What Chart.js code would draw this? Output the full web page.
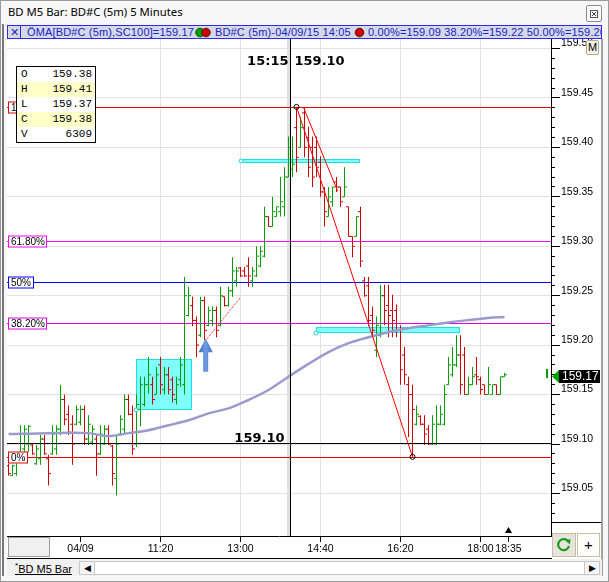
<!DOCTYPE html>
<html><head><meta charset="utf-8">
<script src="https://cdn.jsdelivr.net/npm/chart.js@4"></script>
<style>
body{margin:0;width:609px;height:582px;overflow:hidden;background:#f0f0f0;position:relative;font-family:"Liberation Sans",Arial,sans-serif}
.a{position:absolute;box-sizing:border-box}
#ohlc div{height:15px;line-height:15px;padding:0 3px 0 4px;display:flex;justify-content:space-between}
</style></head><body>
<div class="a" style="left:0;top:0;width:609px;height:582px;border:1px solid #9a9a9a;background:#f7f7f7"></div>
<div class="a" style="left:2px;top:24px;width:2px;height:552px;background:#777"></div>
<div class="a" style="left:8px;top:4px;font:11.3px 'Noto Sans',sans-serif;color:#000;white-space:nowrap">BD M5 Bar: BD#C (5m) 5 Minutes</div>
<div class="a" style="left:586px;top:5px;width:16px;height:17px;border:1px solid #8c8c8c;border-radius:2px;background:#fafafa">
<svg width="14" height="15" style="position:absolute;left:0;top:0"><rect x="3.5" y="4.5" width="7" height="7" fill="none" stroke="#555"/><path d="M5 6 L9 10 M9 6 L5 10" stroke="#444"/></svg></div>
<div class="a" id="leg" style="left:7px;top:25px;width:595px;height:14px;border:1px solid #2a2aff;background:#d5d9e6;overflow:hidden;white-space:nowrap;font:11px 'Liberation Sans',sans-serif;color:#1c1cc8;line-height:12px;letter-spacing:0.15px">
<span class="a" style="left:1px;top:0;width:12px;height:12px;border-right:1px solid #2a2aff;text-align:center">✕</span>
<span class="a" style="left:19px;top:0">ÖMA[BD#C (5m),SC100]=159.17</span>
<svg class="a" style="left:187px;top:1px" width="18" height="11"><circle cx="5" cy="5.5" r="4.3" fill="#00a000" stroke="#003300" stroke-width="0.8"/><circle cx="11" cy="5.5" r="4.3" fill="#d00000" stroke="#400000" stroke-width="0.8"/></svg>
<span class="a" style="left:207px;top:0">BD#C (5m)-04/09/15 14:05</span>
<svg class="a" style="left:346px;top:1px" width="11" height="11"><circle cx="5.5" cy="5.5" r="4.3" fill="#d00000" stroke="#400000" stroke-width="0.8"/></svg>
<span class="a" style="left:360px;top:0">0.00%=159.09 38.20%=159.22 50.00%=159.26 61.80%=159.31</span>
</div>
<div class="a" style="left:7px;top:39px;width:595px;height:520px;background:#fff"></div>
<div class="a" style="left:601px;top:39px;width:2px;height:537px;background:#a0a0a0"></div>
<canvas id="c" class="a" width="594" height="519" style="left:7px;top:39px"></canvas>
<div class="a" style="left:552px;top:522px;width:49px;height:14px;background:#fff;border-top:1px solid #000"></div>
<div class="a" style="left:586px;top:40px;width:13px;height:15px;border:1px solid #b8a888;border-radius:2px;background:#f6f3ea;font:11px 'Liberation Sans',sans-serif;text-align:center;line-height:13px">M</div>
<div class="a" style="left:552px;top:536px;width:49px;height:22px;background:#fff"></div>
<div class="a" style="left:552px;top:533px;width:24px;height:24px;border:1px solid #c8bea0;background:#e6e4dc">
<svg width="22" height="22" style="position:absolute;left:0;top:0"><path d="M15.5 8 A5.5 5.5 0 1 0 16 12" fill="none" stroke="#1f9a1f" stroke-width="2.2"/><path d="M12.5 6.5 L17.5 5 L17 10.5 Z" fill="#1f9a1f"/></svg></div>
<div class="a" style="left:577px;top:533px;width:23px;height:24px;border:1px solid #c8bea0;background:#fff;font:15px 'Liberation Sans',sans-serif;text-align:center;line-height:22px">+</div>
<div class="a" style="left:8px;top:537px;width:42px;height:20px;border:1px solid #9c9c9c;background:#f0f0f0"></div>
<div class="a" style="left:7px;top:558px;width:545px;height:1px;background:#000"></div>
<div class="a" style="left:7px;top:559px;width:595px;height:17px;background:#f0f0f0"></div>
<div class="a" style="left:15px;top:561px;font:11px 'Liberation Sans',sans-serif;text-decoration:underline;color:#000;white-space:nowrap"><sup style="font-size:8px">*</sup>BD M5 Bar</div>
<div class="a" style="left:79px;top:561px;width:521px;height:14px;border:1px solid #c8c8c8;background:#fff"></div>
<div class="a" style="left:79px;top:561px;width:16px;height:14px;border:1px solid #c8c8c8;background:#f4f4f4;font:9px sans-serif;text-align:center;line-height:12px">◀</div>
<div class="a" style="left:584px;top:561px;width:16px;height:14px;border:1px solid #c8c8c8;background:#f4f4f4;font:9px sans-serif;text-align:center;line-height:12px">▶</div>
<div class="a" id="ohlc" style="left:16px;top:66px;width:80px;height:77px;border:1px solid #000;background:#fff;font:11px 'Liberation Mono',monospace;color:#000"></div>
<div class="a" style="left:546px;top:369px;width:2px;height:9px;background:#00a000"></div>
<svg class="a" style="left:552px;top:370px" width="7" height="13"><path d="M0 6.5 L7 0 L7 13 Z" fill="#00a000"/></svg>
<div class="a" id="pm" style="left:559px;top:370px;width:41px;height:13px;background:#000;color:#fff;font:12px 'Liberation Sans',sans-serif;line-height:13px;padding-left:3px">159.17</div>
<script>
// ---- data ----
const opens = [159.078,159.068,159.070,159.090,159.095,159.100,159.099,159.080,159.085,159.105,
159.085,159.090,159.095,159.115,159.145,159.130,159.120,159.120,159.122,159.135,
159.105,159.102,159.105,159.090,159.100,159.115,159.098,159.065,159.110,159.115,
159.145,159.130,159.100,159.135,159.140,159.160,159.160,159.150,159.180,159.155,
159.170,159.165,159.145,159.165,159.160,159.230,159.240,159.225,159.210,159.245,
159.220,159.225,159.235,159.220,159.249,159.240,159.255,159.265,159.278,159.275,
159.280,159.265,159.270,159.280,159.290,159.330,159.320,159.330,159.335,159.340,
159.370,159.378,159.420,159.400,159.435,159.410,159.400,159.400,159.385,159.355,
159.330,159.345,159.365,159.360,159.350,159.340,159.310,159.310,159.335,159.265,
159.260,159.230,159.195,159.210,159.250,159.240,159.235,159.235,159.215,159.190,
159.160,159.150,159.120,159.128,159.120,159.115,159.100,159.100,159.120,159.120,
159.160,159.170,159.180,159.190,159.190,159.150,159.160,159.170,159.165,159.160,
159.150,159.150,159.160,159.150,159.168];
const highs = [159.080,159.079,159.089,159.119,159.119,159.119,159.100,159.099,159.109,159.109,
159.089,159.119,159.119,159.160,159.150,159.139,159.129,159.139,159.139,159.139,
159.129,159.119,159.109,159.119,159.119,159.119,159.099,159.109,159.129,159.150,
159.150,159.139,159.150,159.168,159.168,159.188,159.168,159.178,159.188,159.178,
159.178,159.168,159.168,159.188,159.269,159.259,159.249,159.229,159.249,159.249,
159.239,159.239,159.239,159.259,159.249,159.259,159.289,159.279,159.279,159.279,
159.289,159.279,159.300,159.300,159.340,159.330,159.350,159.340,159.370,159.380,
159.411,159.411,159.441,159.431,159.441,159.421,159.411,159.411,159.391,159.360,
159.360,159.360,159.370,159.360,159.380,159.340,159.310,159.330,159.340,159.269,
159.269,159.239,159.229,159.261,159.261,159.261,159.251,159.241,159.220,159.198,
159.168,159.160,159.139,159.129,159.129,159.119,159.129,159.139,159.139,159.160,
159.188,159.198,159.210,159.210,159.198,159.168,159.178,159.188,159.168,159.160,
159.178,159.160,159.160,159.168,159.172];
const lows = [159.068,159.068,159.068,159.089,159.089,159.092,159.089,159.079,159.079,159.089,
159.058,159.089,159.089,159.109,159.119,159.109,159.079,159.119,159.119,159.099,
159.099,159.099,159.068,159.089,159.099,159.099,159.058,159.048,159.109,159.109,
159.129,159.089,159.097,159.118,159.138,159.151,159.140,159.150,159.150,159.150,
159.150,159.142,159.140,159.158,159.150,159.229,159.219,159.188,159.208,159.205,
159.219,159.219,159.208,159.219,159.239,159.239,159.249,159.259,159.269,159.269,
159.259,159.259,159.269,159.279,159.289,159.320,159.320,159.330,159.330,159.330,
159.370,159.370,159.375,159.400,159.390,159.370,159.360,159.370,159.350,159.320,
159.330,159.340,159.355,159.340,159.350,159.310,159.289,159.310,159.279,159.249,
159.219,159.209,159.188,159.208,159.220,159.208,159.208,159.208,159.160,159.160,
159.107,159.087,159.119,159.119,159.099,159.099,159.099,159.099,159.119,159.119,
159.160,159.168,159.178,159.150,159.150,159.150,159.160,159.160,159.150,159.150,
159.150,159.150,159.150,159.150,159.168];
const closes = [159.070,159.078,159.088,159.110,159.115,159.118,159.090,159.095,159.105,159.090,
159.070,159.110,159.115,159.145,159.125,159.112,159.100,159.135,159.135,159.105,
159.120,159.115,159.090,159.110,159.115,159.100,159.070,159.100,159.125,159.145,
159.130,159.095,159.140,159.160,159.160,159.170,159.145,159.170,159.160,159.170,
159.155,159.150,159.160,159.180,159.250,159.250,159.225,159.200,159.245,159.215,
159.235,159.235,159.215,159.250,159.240,159.255,159.275,159.275,159.270,159.270,
159.270,159.275,159.290,159.295,159.330,159.320,159.335,159.340,159.345,159.370,
159.400,159.383,159.390,159.420,159.400,159.380,159.370,159.380,159.355,159.335,
159.350,159.360,159.360,159.345,159.360,159.310,159.300,159.330,159.285,159.250,
159.225,159.215,159.220,159.250,159.235,159.230,159.225,159.215,159.175,159.170,
159.150,159.135,159.130,159.120,159.110,159.100,159.120,159.120,159.130,159.150,
159.180,159.180,159.190,159.160,159.150,159.160,159.168,159.168,159.155,159.150,
159.160,159.160,159.150,159.168,159.170];
const crossVolume = 6309;
// 100-bar moving average, sampled along the chart
const maIdx = [0,10,20,25,30,35,40,45,50,55,60,65,70,75,80,85,90,95,100,105,110,115,120,124];
const maVal = [159.110,159.111,159.111,159.108,159.111,159.114,159.119,159.124,159.131,159.136,159.1445,159.1546,
159.168,159.181,159.193,159.202,159.208,159.213,159.217,159.220,159.223,159.2254,159.2275,159.2285];
// time axis labels (bar index -> label)
const xTickIdx = [18,38,58,78,98,118,125];
const xTickLabels = ['04/09','11:20','13:00','14:40','16:20','18:00','18:35'];
const xGrid = [false,true,true,true,true,true,false];
const priceTicks = [159.05,159.10,159.15,159.20,159.25,159.30,159.35,159.40,159.45,159.50];
// fibonacci retracement
const fibLow = 159.087, fibHigh = 159.441;
const fibPct = [0,38.2,50,61.8,100];
const fibLabels = ['0%','38.20%','50%','61.80%','100%'];
const fibColors = ['#e00000','#e000e0','#0000ff','#ff00ff','#e00000'];
// drawings
const rectX0 = [31.9,58.1,76.9], rectX1 = [45.8,87.8,112.9];
const rectLo = [159.1344,159.3842,159.2118], rectHi = [159.186,159.3883,159.218];
const trendA = [[72,159.441],[101,159.087]];
const trendB = [[73.7,159.441],[82.25,159.356]];
const trendC = [[49.55,159.206],[58.05,159.2485]];
const crossIdx = 70.5, crossPrice = 159.10, crossBar = 71;
const arrowIdx = 49.3, arrowTip = 159.207, arrowBase = 159.173;

// ---- chart ----
const GREEN='#00a000', RED='#d00000', GRID='#e2e2e2';
const AXF='"Liberation Sans",Arial,sans-serif';
const idx = opens.map((_,i)=>i);
const col = idx.map(i => closes[i] >= opens[i] ? GREEN : RED);
const minorTicks=[]; for(let k=1;k<=50;k++) minorTicks.push(+(159+k*0.01).toFixed(2));
const YMAX = 159.10 + 405/988.6, YMIN = 159.10 - 92/988.6;

// OHLC box
const ob = document.getElementById('ohlc');
[['O',opens[crossBar].toFixed(2),'#fff'],['H',highs[crossBar].toFixed(2),'#ffffc8'],['L',lows[crossBar].toFixed(2),'#fff'],
 ['C',closes[crossBar].toFixed(2),'#ffffc8'],['V',String(crossVolume),'#fff']].forEach(r=>{
  const d=document.createElement('div'); d.style.background=r[2];
  d.innerHTML='<span>'+r[0]+'</span><span>'+r[1]+'</span>'; ob.appendChild(d);
});

const P=(s,v)=>s.getPixelForValue(v);
const deco = {
  id:'deco',
  beforeDatasetsDraw(chart){
    const {ctx, chartArea:a, scales:{x,y}} = chart;
    ctx.save(); ctx.beginPath(); ctx.rect(a.left,a.top,a.right-a.left,a.bottom-a.top); ctx.clip();
    const b0=Math.round(P(x,crossIdx-1)), b1=Math.round(P(x,crossIdx));
    ctx.fillStyle='#e0e0e0'; ctx.fillRect(b0,a.top,b1-b0,a.bottom-a.top);
    fibPct.forEach((p,k)=>{
      const py=Math.round(P(y,fibLow+(fibHigh-fibLow)*p/100))+0.5;
      ctx.strokeStyle=fibColors[k]; ctx.lineWidth=1;
      ctx.beginPath(); ctx.moveTo(a.left,py); ctx.lineTo(a.right,py); ctx.stroke();
    });
    rectX0.forEach((_,k)=>{
      const x0=Math.round(P(x,rectX0[k])), x1=Math.round(P(x,rectX1[k]));
      const y0=Math.round(P(y,rectHi[k])), y1=Math.round(P(y,rectLo[k]));
      ctx.fillStyle='#80ffff'; ctx.fillRect(x0,y0,x1-x0,y1-y0);
      ctx.strokeStyle='#20e0e0'; ctx.strokeRect(x0+0.5,y0+0.5,x1-x0-1,y1-y0-1);
    });
    ctx.restore();
  },
  afterDatasetsDraw(chart){
    const {ctx, chartArea:a, scales:{x,y}} = chart;
    ctx.save(); ctx.beginPath(); ctx.rect(a.left,a.top,a.right-a.left,a.bottom-a.top); ctx.clip();
    rectX0.forEach((_,k)=>{
      const x0=Math.round(P(x,rectX0[k]));
      const yy = k===1 ? (P(y,rectHi[k])+P(y,rectLo[k]))/2 : Math.round(P(y,rectLo[k]));
      ctx.beginPath(); ctx.arc(x0,yy,2,0,Math.PI*2); ctx.fillStyle='#fff'; ctx.fill();
      ctx.strokeStyle='#20d8d8'; ctx.lineWidth=1; ctx.stroke();
    });
    const cx=Math.round(P(x,crossIdx))+0.5-1, cy=Math.round(P(y,crossPrice))-0.5;
    ctx.strokeStyle='#000'; ctx.lineWidth=1;
    ctx.beginPath(); ctx.moveTo(cx,a.top); ctx.lineTo(cx,a.bottom); ctx.moveTo(a.left,cy); ctx.lineTo(a.right,cy); ctx.stroke();
    ctx.font='bold 13px "DejaVu Sans",sans-serif'; ctx.fillStyle='#000'; ctx.textBaseline='alphabetic';
    ctx.textAlign='right'; ctx.fillText('15:15',cx-2,a.top+26);
    ctx.textAlign='left'; ctx.fillText(crossPrice.toFixed(2),cx+4,a.top+26);
    ctx.textAlign='right'; ctx.fillText(crossPrice.toFixed(2),cx-6,cy-1.5);
    const ax=P(x,arrowIdx), t=P(y,arrowTip), b=P(y,arrowBase);
    const g=ctx.createLinearGradient(ax-7,0,ax+7,0); g.addColorStop(0,'#3a68bb'); g.addColorStop(0.5,'#6f9be0'); g.addColorStop(1,'#3f6fc4');
    ctx.fillStyle=g; ctx.beginPath();
    ctx.moveTo(ax,t); ctx.lineTo(ax+7,t+14); ctx.lineTo(ax+2.5,t+14); ctx.lineTo(ax+2.5,b); ctx.lineTo(ax-2.5,b);
    ctx.lineTo(ax-2.5,t+14); ctx.lineTo(ax-7,t+14); ctx.closePath(); ctx.fill();
    ctx.font='10px '+AXF; ctx.textBaseline='middle'; ctx.textAlign='left';
    fibPct.forEach((p,k)=>{
      const py=Math.round(P(y,fibLow+(fibHigh-fibLow)*p/100))+0.5;
      const w=Math.ceil(ctx.measureText(fibLabels[k]).width)+5;
      ctx.fillStyle='#fff'; ctx.fillRect(a.left+1,py-6,w,12);
      ctx.strokeStyle=fibColors[k]; ctx.strokeRect(a.left+1.5,py-5.5,w-1,11);
      ctx.fillStyle='#000'; ctx.fillText(fibLabels[k],a.left+4,py+0.5);
    });
    const mx=P(x,xTickIdx[xTickIdx.length-1]);
    ctx.fillStyle='#000'; ctx.beginPath(); ctx.moveTo(mx,a.bottom-9); ctx.lineTo(mx+3.5,a.bottom-3); ctx.lineTo(mx-3.5,a.bottom-3); ctx.closePath(); ctx.fill();
    ctx.restore();
  }
};

const seg = (pts)=>pts.map(p=>({x:p[0],y:p[1]}));
new Chart(document.getElementById('c'), {
  data:{ datasets:[
    {type:'line', data:seg(trendA), borderColor:'#ff0000', borderWidth:1, pointRadius:2.5, pointBorderColor:'#000', pointBackgroundColor:'rgba(0,0,0,0)', pointBorderWidth:1, order:1},
    {type:'line', data:seg(trendB), borderColor:'#ff0000', borderWidth:1, pointRadius:0, order:1},
    {type:'line', data:seg(trendC), borderColor:'#ff0000', borderWidth:1, borderDash:[1,1], pointRadius:0, order:1},
    {type:'line', data:maIdx.map((v,k)=>({x:v,y:maVal[k]})), borderColor:'#9a9acc', borderWidth:2.5, pointRadius:0, tension:0.35, order:2},
    {type:'scatter', data:idx.map(i=>({x:i-0.3125,y:opens[i]})), pointStyle:'line', pointRadius:1.25, pointBorderWidth:1, pointBorderColor:col, pointBackgroundColor:col, order:3},
    {type:'scatter', data:idx.map(i=>({x:i+0.3125,y:closes[i]})), pointStyle:'line', pointRadius:1.25, pointBorderWidth:1, pointBorderColor:col, pointBackgroundColor:col, order:3},
    {type:'bar', data:idx.map(i=>({x:i,y:[lows[i],highs[i]]})), backgroundColor:col, borderWidth:0, barThickness:1, inflateAmount:0, grouped:false, order:4}
  ]},
  options:{
    responsive:false, animation:false, devicePixelRatio:1, events:[],
    layout:{padding:0, autoPadding:false},
    plugins:{legend:{display:false}, tooltip:{enabled:false}},
    scales:{
      x:{type:'linear', min:-0.375, max:135.625, position:'bottom', offset:false,
        afterBuildTicks:ax=>{ax.ticks=xTickIdx.map(v=>({value:v}));},
        afterFit:ax=>{ax.height=22; ax.paddingLeft=0; ax.paddingRight=0;},
        ticks:{autoSkip:false, maxRotation:0, padding:1, color:'#000', font:{family:AXF,size:10.5},
          callback:v=>{const k=xTickIdx.indexOf(v); return k<0?'':xTickLabels[k];}},
        grid:{offset:false, color:c=>{const k=xTickIdx.indexOf(c.tick&&c.tick.value); return (k>=0&&xGrid[k])?GRID:'rgba(0,0,0,0)';}, tickColor:'#000', tickLength:6},
        border:{color:'#000'}},
      y:{type:'linear', position:'right', weight:2, min:YMIN, max:YMAX,
        afterBuildTicks:ax=>{ax.ticks=priceTicks.map(v=>({value:v}));},
        afterFit:ax=>{ax.width=50; ax.paddingTop=0; ax.paddingBottom=0;},
        ticks:{padding:1, labelOffset:-5, color:'#000', font:{family:AXF,size:10.5}, callback:v=>Number(v).toFixed(2)},
        grid:{color:GRID, tickColor:'#000', tickLength:9},
        border:{color:'#000'}},
      y2:{type:'linear', position:'right', weight:1, min:YMIN, max:YMAX,
        afterBuildTicks:ax=>{ax.ticks=minorTicks.map(v=>({value:v}));},
        afterFit:ax=>{ax.width=0; ax.paddingTop=0; ax.paddingBottom=0;},
        ticks:{display:false},
        grid:{drawOnChartArea:false, tickColor:'#000', tickLength:4},
        border:{display:false}}
    }
  },
  plugins:[deco]
});
</script>
</body></html>
